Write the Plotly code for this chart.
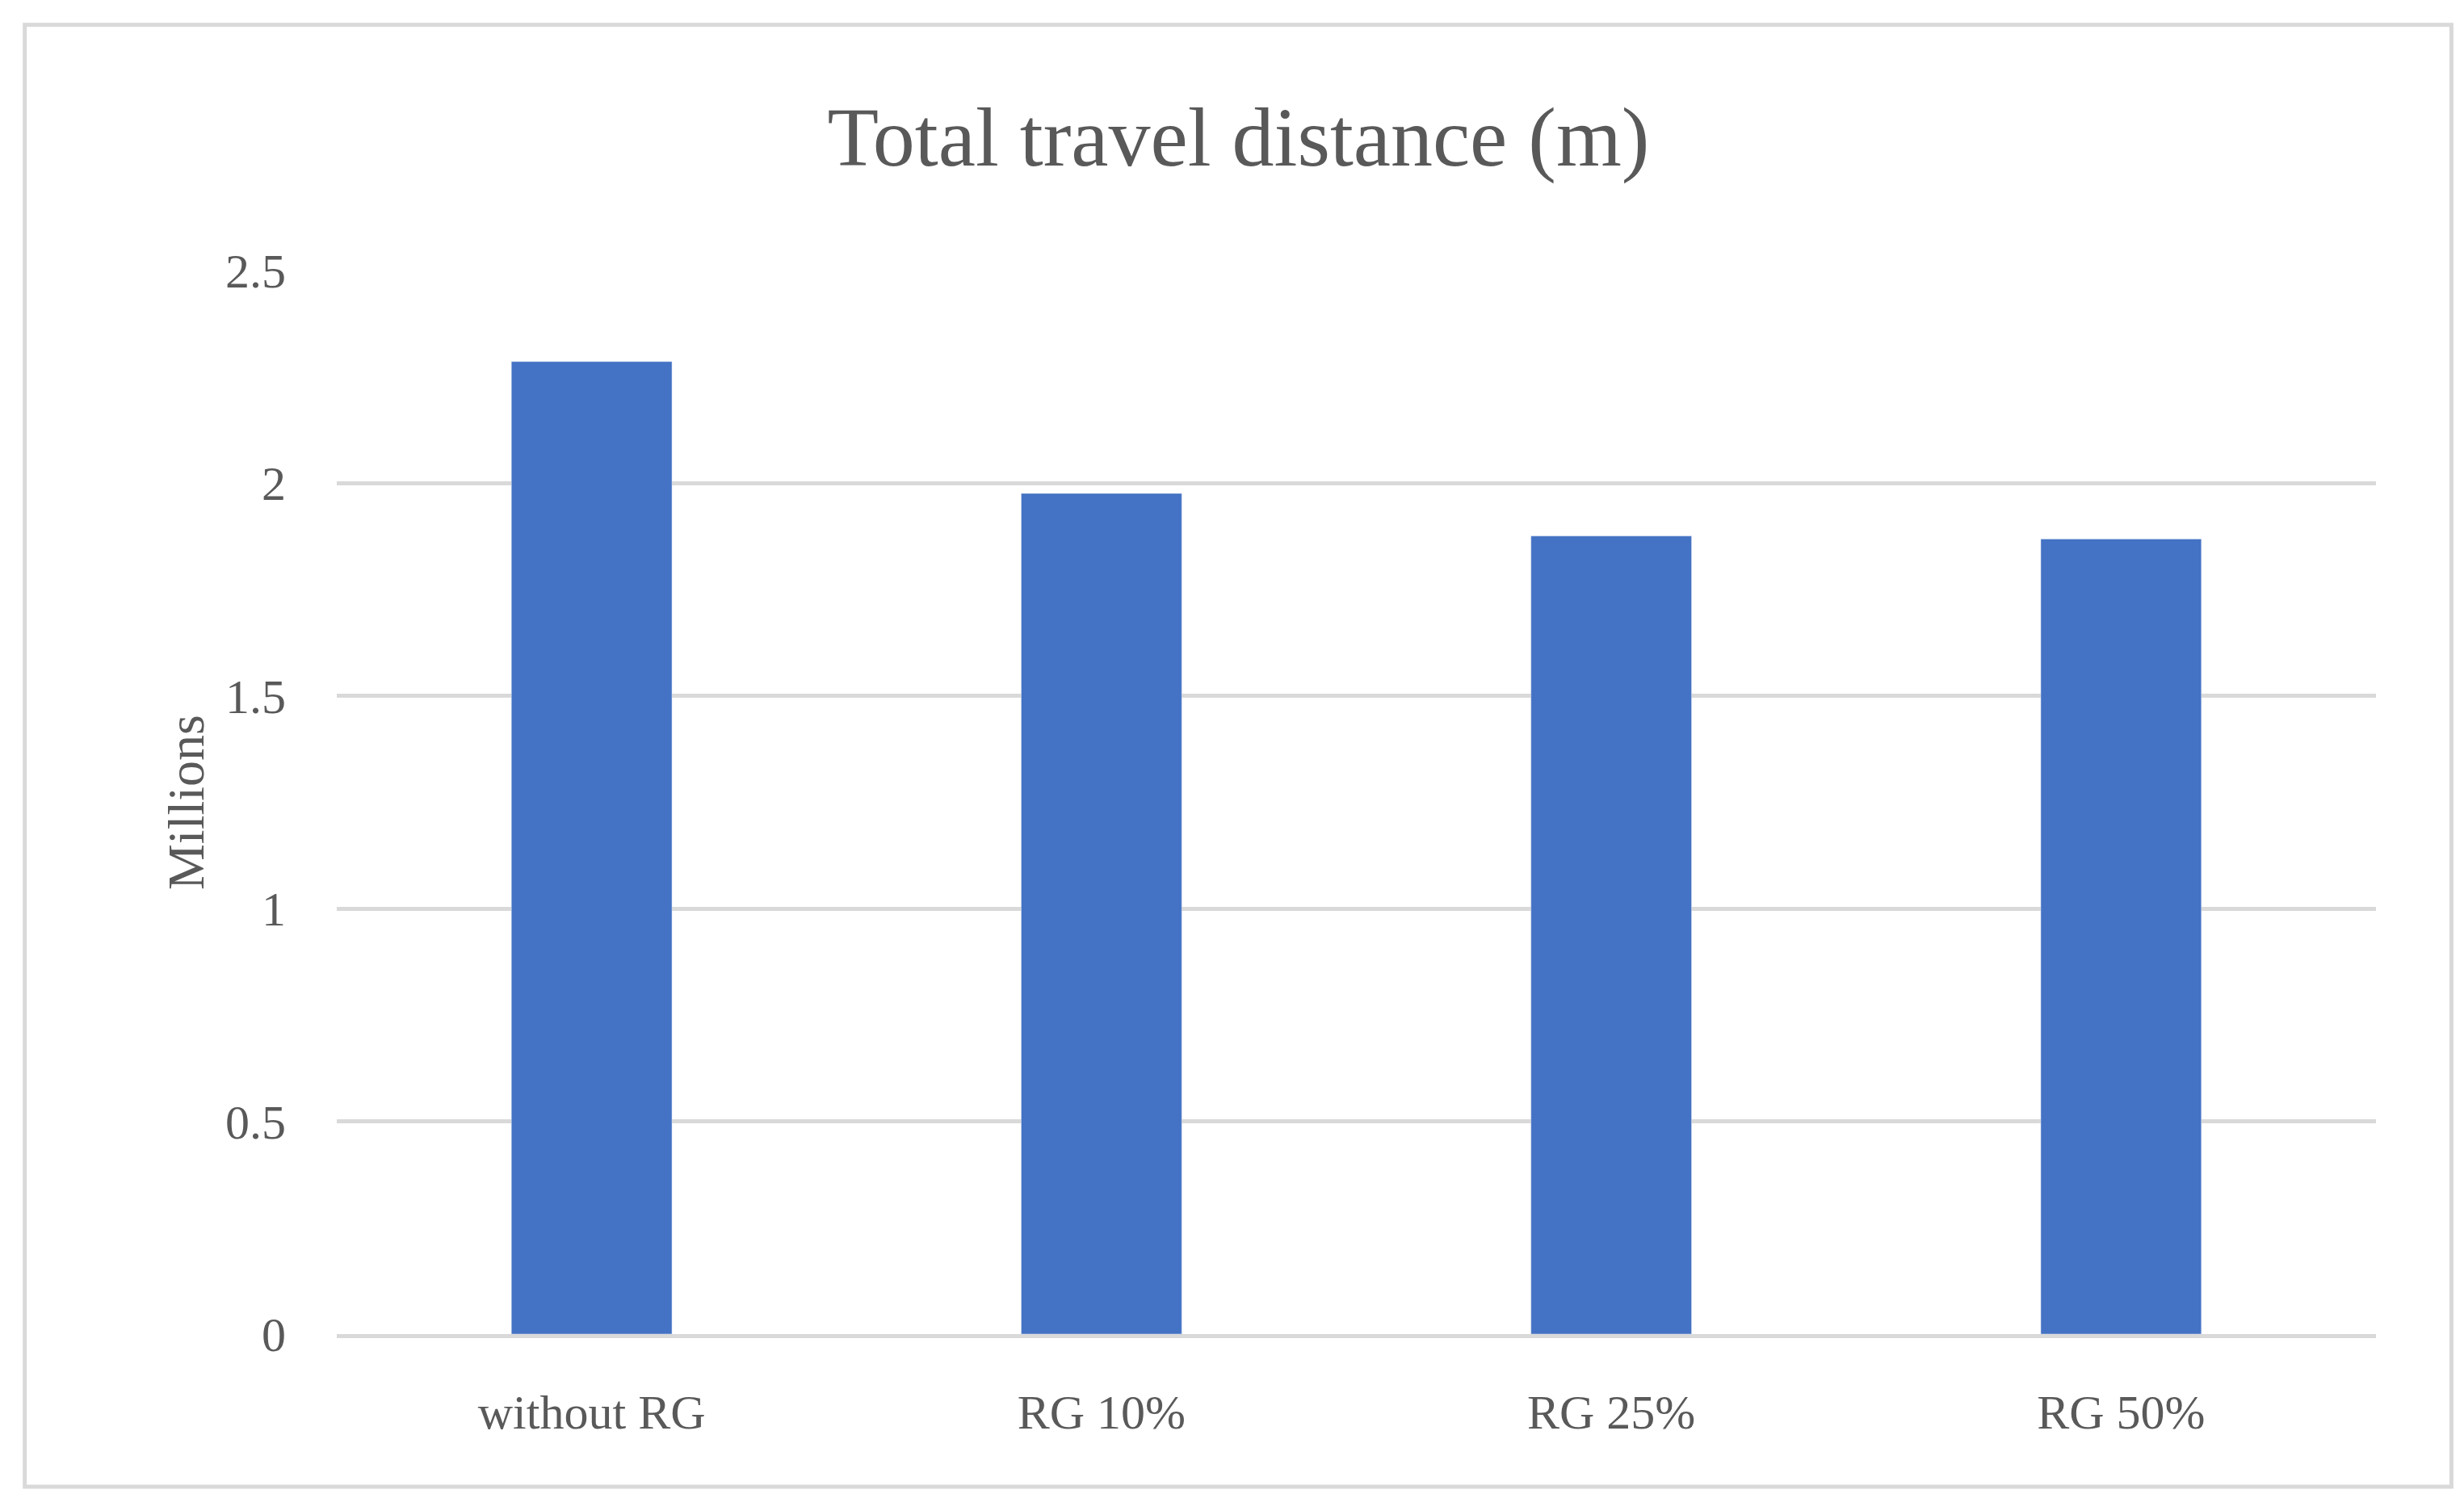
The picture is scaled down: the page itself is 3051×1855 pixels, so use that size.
import plotly.graph_objects as go

categories = ["without RG", "RG 10%", "RG 25%", "RG 50%"]
values = [2286000, 1976000, 1876000, 1869000]

fig = go.Figure(go.Bar(x=categories, y=values, marker_color="#4472C4", width=0.315))
font = dict(family="Liberation Serif", color="#595959")
fig.update_layout(
    width=3051, height=1855,
    margin=dict(l=409, r=117, t=327, b=211),
    paper_bgcolor="white", plot_bgcolor="white",
    title=dict(text="Total travel distance (m)", x=0.5, xanchor="center", y=1-161/1855, yanchor="middle",
               font=dict(size=104, **font)),
    showlegend=False,
    xaxis=dict(tickfont=dict(size=60, **font), showgrid=False, showline=True, linecolor="#d9d9d9", linewidth=5,
               ticks="outside", ticklen=40, tickcolor="rgba(0,0,0,0)"),
    yaxis=dict(range=[0, 2500000], tickvals=[0, 500000, 1000000, 1500000, 2000000, 2500000],
               ticktext=["0", "0.5", "1", "1.5", "2", "2.5"], tickfont=dict(size=60, **font),
               gridcolor="#d9d9d9", gridwidth=5, zeroline=False,
               ticks="outside", ticklen=50, tickcolor="rgba(0,0,0,0)"),
    annotations=[dict(text="Millions", xref="paper", yref="paper", x=-0.0887, y=0.5, textangle=-90,
                      showarrow=False, font=dict(size=64, **font))],
    shapes=[dict(type="rect", xref="paper", yref="paper", x0=-0.153, x1=1.037, y0=-0.1435, y1=1.231,
                 line=dict(color="#d9d9d9", width=5))],
)
fig.write_html("out.html")
